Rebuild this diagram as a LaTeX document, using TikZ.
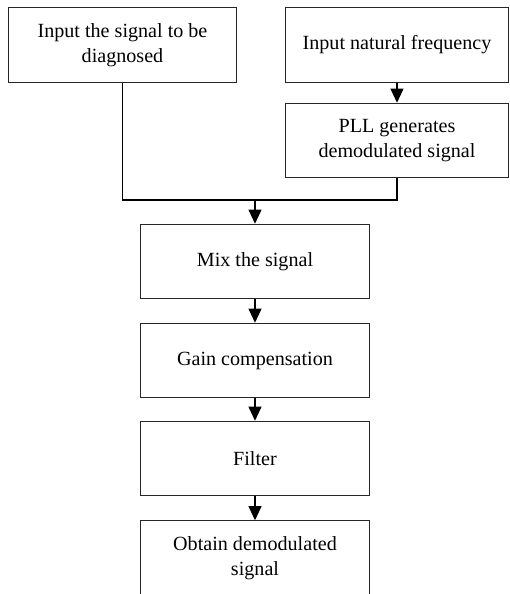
\documentclass[tikz,border=0pt]{standalone}
\usepackage{fontspec}
\setmainfont{Liberation Serif}
\usetikzlibrary{arrows.meta}

\begin{document}
\begin{tikzpicture}[x=0.025cm, y=-0.025cm,
	every node/.style={rectangle, draw=black!85, line width=0.7pt, align=center, inner sep=0pt,
		minimum width=5.7cm, minimum height=1.86cm, font=\fontsize{14.3}{17.5}\selectfont},
	narrow/.style={minimum width=5.55cm},
	wire/.style={line width=1.4pt},
	link/.style={wire, -{Triangle[length=10pt, width=9pt]}}]
	\useasboundingbox (0,0) rectangle (510,594);
	\node (sig) at (122.5, 45) {Input the signal to be\\diagnosed};
	\node[narrow] (nat) at (397, 45) {Input natural frequency};
	\node[narrow] (pll) at (397, 140.5) {PLL generates\\demodulated signal};
	\node (mix) at (255, 261.5) {Mix the signal};
	\node (gain) at (255, 360.5) {Gain compensation};
	\node (filt) at (255, 458.5) {Filter};
	\node (out) at (255, 558) {Obtain demodulated\\signal};
	\coordinate (join) at (255, 200);
	\draw[link] (nat) -- (pll);
	\draw[wire] (sig) |- (join);
	\draw[wire] (pll) |- (join);
	\draw[link] (join) -- (mix);
	\draw[link] (mix) -- (gain);
	\draw[link] (gain) -- (filt);
	\draw[link] (filt) -- (out);
\end{tikzpicture}
\end{document}
